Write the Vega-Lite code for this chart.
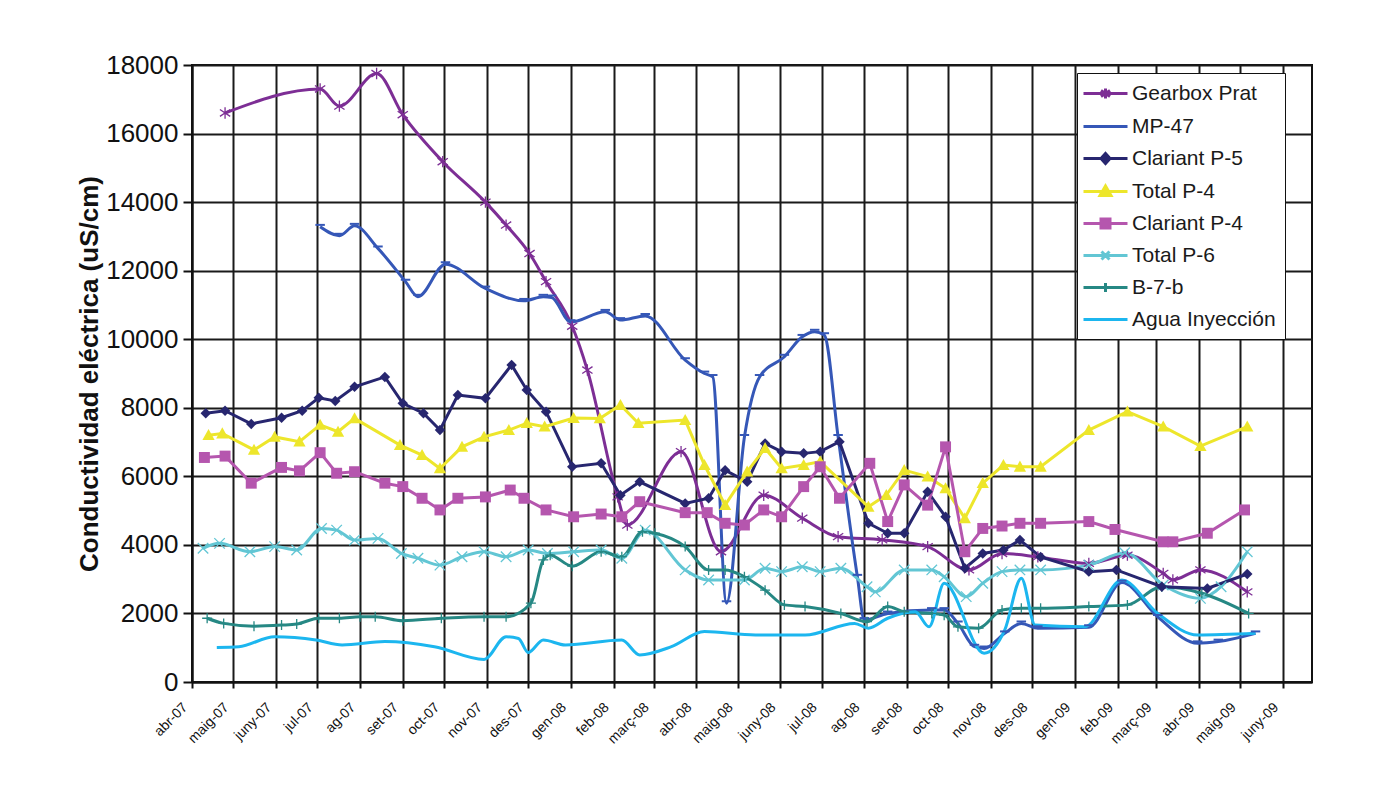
{
  "$schema": "https://vega.github.io/schema/vega-lite/v6.json",
  "width": 1120,
  "height": 617,
  "autosize": "none",
  "padding": {"left": 192, "top": 65, "right": 73, "bottom": 105},
  "background": "white",
  "config": {
    "font": "Liberation Sans",
    "view": {"stroke": "#111", "strokeWidth": 2},
    "axis": {"gridColor": "#1a1a1a", "gridWidth": 2, "gridOpacity": 1, "domainColor": "#111", "domainWidth": 2, "tickColor": "#111", "tickWidth": 2, "labelColor": "#111", "titleColor": "#111"}
  },
  "data": {"values": [
    {"s":"Gearbox Prat","d":"2007-04-25","v":16600},
    {"s":"Gearbox Prat","d":"2007-07-03","v":17300},
    {"s":"Gearbox Prat","d":"2007-07-17","v":16800},
    {"s":"Gearbox Prat","d":"2007-08-13","v":17750},
    {"s":"Gearbox Prat","d":"2007-09-01","v":16550},
    {"s":"Gearbox Prat","d":"2007-09-30","v":15180},
    {"s":"Gearbox Prat","d":"2007-10-31","v":14000},
    {"s":"Gearbox Prat","d":"2007-11-15","v":13330},
    {"s":"Gearbox Prat","d":"2007-12-02","v":12500},
    {"s":"Gearbox Prat","d":"2007-12-14","v":11680},
    {"s":"Gearbox Prat","d":"2008-01-02","v":10380},
    {"s":"Gearbox Prat","d":"2008-01-13","v":9100},
    {"s":"Gearbox Prat","d":"2008-02-04","v":5400},
    {"s":"Gearbox Prat","d":"2008-02-11","v":4580},
    {"s":"Gearbox Prat","d":"2008-03-21","v":6720},
    {"s":"Gearbox Prat","d":"2008-04-19","v":3800},
    {"s":"Gearbox Prat","d":"2008-05-20","v":5450},
    {"s":"Gearbox Prat","d":"2008-06-17","v":4780},
    {"s":"Gearbox Prat","d":"2008-07-13","v":4240},
    {"s":"Gearbox Prat","d":"2008-08-14","v":4150},
    {"s":"Gearbox Prat","d":"2008-09-16","v":3950},
    {"s":"Gearbox Prat","d":"2008-10-16","v":3270},
    {"s":"Gearbox Prat","d":"2008-11-09","v":3750},
    {"s":"Gearbox Prat","d":"2008-12-05","v":3650},
    {"s":"Gearbox Prat","d":"2009-01-11","v":3460},
    {"s":"Gearbox Prat","d":"2009-02-08","v":3700},
    {"s":"Gearbox Prat","d":"2009-03-06","v":3170},
    {"s":"Gearbox Prat","d":"2009-03-13","v":2980},
    {"s":"Gearbox Prat","d":"2009-04-02","v":3270},
    {"s":"Gearbox Prat","d":"2009-05-06","v":2630},

    {"s":"MP-47","d":"2007-07-03","v":13280},
    {"s":"MP-47","d":"2007-07-17","v":13020},
    {"s":"MP-47","d":"2007-07-28","v":13310},
    {"s":"MP-47","d":"2007-08-14","v":12650},
    {"s":"MP-47","d":"2007-09-03","v":11680},
    {"s":"MP-47","d":"2007-09-12","v":11240},
    {"s":"MP-47","d":"2007-10-02","v":12190},
    {"s":"MP-47","d":"2007-10-31","v":11480},
    {"s":"MP-47","d":"2007-11-28","v":11120},
    {"s":"MP-47","d":"2007-12-12","v":11240},
    {"s":"MP-47","d":"2007-12-18","v":11220},
    {"s":"MP-47","d":"2008-01-01","v":10500},
    {"s":"MP-47","d":"2008-01-26","v":10800},
    {"s":"MP-47","d":"2008-02-06","v":10560},
    {"s":"MP-47","d":"2008-02-24","v":10680},
    {"s":"MP-47","d":"2008-03-24","v":9390},
    {"s":"MP-47","d":"2008-04-07","v":9000},
    {"s":"MP-47","d":"2008-04-13","v":8900},
    {"s":"MP-47","d":"2008-04-23","v":2300},
    {"s":"MP-47","d":"2008-05-06","v":7150},
    {"s":"MP-47","d":"2008-05-17","v":8900},
    {"s":"MP-47","d":"2008-06-04","v":9490},
    {"s":"MP-47","d":"2008-06-17","v":10070},
    {"s":"MP-47","d":"2008-06-26","v":10220},
    {"s":"MP-47","d":"2008-07-03","v":10120},
    {"s":"MP-47","d":"2008-07-13","v":7150},
    {"s":"MP-47","d":"2008-07-27","v":3070},
    {"s":"MP-47","d":"2008-08-01","v":1810},
    {"s":"MP-47","d":"2008-08-18","v":2000},
    {"s":"MP-47","d":"2008-09-19","v":2100},
    {"s":"MP-47","d":"2008-09-28","v":2100},
    {"s":"MP-47","d":"2008-10-08","v":1710},
    {"s":"MP-47","d":"2008-10-20","v":1030},
    {"s":"MP-47","d":"2008-10-27","v":980},
    {"s":"MP-47","d":"2008-11-11","v":1420},
    {"s":"MP-47","d":"2008-11-23","v":1710},
    {"s":"MP-47","d":"2008-12-05","v":1570},
    {"s":"MP-47","d":"2009-01-11","v":1600},
    {"s":"MP-47","d":"2009-02-04","v":2900},
    {"s":"MP-47","d":"2009-03-02","v":1900},
    {"s":"MP-47","d":"2009-03-31","v":1130},
    {"s":"MP-47","d":"2009-04-15","v":1180},
    {"s":"MP-47","d":"2009-05-12","v":1420},

    {"s":"Clariant P-5","d":"2007-04-11","v":7840},
    {"s":"Clariant P-5","d":"2007-04-25","v":7915},
    {"s":"Clariant P-5","d":"2007-05-14","v":7530},
    {"s":"Clariant P-5","d":"2007-06-05","v":7710},
    {"s":"Clariant P-5","d":"2007-06-20","v":7915},
    {"s":"Clariant P-5","d":"2007-07-02","v":8290},
    {"s":"Clariant P-5","d":"2007-07-14","v":8200},
    {"s":"Clariant P-5","d":"2007-07-28","v":8610},
    {"s":"Clariant P-5","d":"2007-08-19","v":8900},
    {"s":"Clariant P-5","d":"2007-09-01","v":8130},
    {"s":"Clariant P-5","d":"2007-09-16","v":7840},
    {"s":"Clariant P-5","d":"2007-09-28","v":7350},
    {"s":"Clariant P-5","d":"2007-10-11","v":8370},
    {"s":"Clariant P-5","d":"2007-10-31","v":8275},
    {"s":"Clariant P-5","d":"2007-11-19","v":9250},
    {"s":"Clariant P-5","d":"2007-11-30","v":8520},
    {"s":"Clariant P-5","d":"2007-12-14","v":7885},
    {"s":"Clariant P-5","d":"2008-01-02","v":6280},
    {"s":"Clariant P-5","d":"2008-01-23","v":6380},
    {"s":"Clariant P-5","d":"2008-02-06","v":5450},
    {"s":"Clariant P-5","d":"2008-02-20","v":5840},
    {"s":"Clariant P-5","d":"2008-03-24","v":5210},
    {"s":"Clariant P-5","d":"2008-04-10","v":5360},
    {"s":"Clariant P-5","d":"2008-04-22","v":6180},
    {"s":"Clariant P-5","d":"2008-05-08","v":5840},
    {"s":"Clariant P-5","d":"2008-05-21","v":6960},
    {"s":"Clariant P-5","d":"2008-06-02","v":6720},
    {"s":"Clariant P-5","d":"2008-06-18","v":6670},
    {"s":"Clariant P-5","d":"2008-06-30","v":6720},
    {"s":"Clariant P-5","d":"2008-07-14","v":7010},
    {"s":"Clariant P-5","d":"2008-08-04","v":4630},
    {"s":"Clariant P-5","d":"2008-08-18","v":4340},
    {"s":"Clariant P-5","d":"2008-08-30","v":4340},
    {"s":"Clariant P-5","d":"2008-09-16","v":5550},
    {"s":"Clariant P-5","d":"2008-09-29","v":4820},
    {"s":"Clariant P-5","d":"2008-10-13","v":3320},
    {"s":"Clariant P-5","d":"2008-10-26","v":3750},
    {"s":"Clariant P-5","d":"2008-11-10","v":3850},
    {"s":"Clariant P-5","d":"2008-11-22","v":4140},
    {"s":"Clariant P-5","d":"2008-12-07","v":3650},
    {"s":"Clariant P-5","d":"2009-01-11","v":3220},
    {"s":"Clariant P-5","d":"2009-01-31","v":3270},
    {"s":"Clariant P-5","d":"2009-03-05","v":2780},
    {"s":"Clariant P-5","d":"2009-04-07","v":2730},
    {"s":"Clariant P-5","d":"2009-05-06","v":3150},

    {"s":"Total P-4","d":"2007-04-13","v":7200},
    {"s":"Total P-4","d":"2007-04-23","v":7250},
    {"s":"Total P-4","d":"2007-05-16","v":6770},
    {"s":"Total P-4","d":"2007-05-31","v":7150},
    {"s":"Total P-4","d":"2007-06-18","v":7010},
    {"s":"Total P-4","d":"2007-07-03","v":7500},
    {"s":"Total P-4","d":"2007-07-16","v":7300},
    {"s":"Total P-4","d":"2007-07-28","v":7690},
    {"s":"Total P-4","d":"2007-08-30","v":6910},
    {"s":"Total P-4","d":"2007-09-15","v":6620},
    {"s":"Total P-4","d":"2007-09-28","v":6230},
    {"s":"Total P-4","d":"2007-10-14","v":6860},
    {"s":"Total P-4","d":"2007-10-30","v":7150},
    {"s":"Total P-4","d":"2007-11-17","v":7350},
    {"s":"Total P-4","d":"2007-11-30","v":7550},
    {"s":"Total P-4","d":"2007-12-13","v":7450},
    {"s":"Total P-4","d":"2008-01-03","v":7700},
    {"s":"Total P-4","d":"2008-01-22","v":7690},
    {"s":"Total P-4","d":"2008-02-06","v":8080},
    {"s":"Total P-4","d":"2008-02-19","v":7550},
    {"s":"Total P-4","d":"2008-03-24","v":7640},
    {"s":"Total P-4","d":"2008-04-07","v":6330},
    {"s":"Total P-4","d":"2008-04-22","v":5160},
    {"s":"Total P-4","d":"2008-05-08","v":6135},
    {"s":"Total P-4","d":"2008-05-21","v":6820},
    {"s":"Total P-4","d":"2008-06-02","v":6230},
    {"s":"Total P-4","d":"2008-06-18","v":6330},
    {"s":"Total P-4","d":"2008-06-30","v":6430},
    {"s":"Total P-4","d":"2008-08-04","v":5110},
    {"s":"Total P-4","d":"2008-08-17","v":5455},
    {"s":"Total P-4","d":"2008-08-30","v":6180},
    {"s":"Total P-4","d":"2008-09-16","v":5990},
    {"s":"Total P-4","d":"2008-09-29","v":5650},
    {"s":"Total P-4","d":"2008-10-13","v":4775},
    {"s":"Total P-4","d":"2008-10-26","v":5800},
    {"s":"Total P-4","d":"2008-11-10","v":6330},
    {"s":"Total P-4","d":"2008-11-22","v":6280},
    {"s":"Total P-4","d":"2008-12-07","v":6280},
    {"s":"Total P-4","d":"2009-01-11","v":7350},
    {"s":"Total P-4","d":"2009-02-08","v":7885},
    {"s":"Total P-4","d":"2009-03-06","v":7450},
    {"s":"Total P-4","d":"2009-04-02","v":6880},
    {"s":"Total P-4","d":"2009-05-06","v":7450},

    {"s":"Clariant P-4","d":"2007-04-10","v":6550},
    {"s":"Clariant P-4","d":"2007-04-25","v":6590},
    {"s":"Clariant P-4","d":"2007-05-14","v":5800},
    {"s":"Clariant P-4","d":"2007-06-05","v":6260},
    {"s":"Clariant P-4","d":"2007-06-18","v":6160},
    {"s":"Clariant P-4","d":"2007-07-03","v":6690},
    {"s":"Clariant P-4","d":"2007-07-15","v":6090},
    {"s":"Clariant P-4","d":"2007-07-28","v":6135},
    {"s":"Clariant P-4","d":"2007-08-19","v":5800},
    {"s":"Clariant P-4","d":"2007-09-01","v":5700},
    {"s":"Clariant P-4","d":"2007-09-15","v":5360},
    {"s":"Clariant P-4","d":"2007-09-28","v":5020},
    {"s":"Clariant P-4","d":"2007-10-11","v":5360},
    {"s":"Clariant P-4","d":"2007-10-31","v":5400},
    {"s":"Clariant P-4","d":"2007-11-18","v":5600},
    {"s":"Clariant P-4","d":"2007-11-28","v":5360},
    {"s":"Clariant P-4","d":"2007-12-14","v":5020},
    {"s":"Clariant P-4","d":"2008-01-03","v":4820},
    {"s":"Clariant P-4","d":"2008-01-23","v":4900},
    {"s":"Clariant P-4","d":"2008-02-07","v":4820},
    {"s":"Clariant P-4","d":"2008-02-20","v":5260},
    {"s":"Clariant P-4","d":"2008-03-24","v":4940},
    {"s":"Clariant P-4","d":"2008-04-09","v":4940},
    {"s":"Clariant P-4","d":"2008-04-22","v":4630},
    {"s":"Clariant P-4","d":"2008-05-06","v":4580},
    {"s":"Clariant P-4","d":"2008-05-20","v":5020},
    {"s":"Clariant P-4","d":"2008-06-02","v":4820},
    {"s":"Clariant P-4","d":"2008-06-18","v":5700},
    {"s":"Clariant P-4","d":"2008-06-30","v":6280},
    {"s":"Clariant P-4","d":"2008-07-14","v":5360},
    {"s":"Clariant P-4","d":"2008-08-05","v":6380},
    {"s":"Clariant P-4","d":"2008-08-18","v":4680},
    {"s":"Clariant P-4","d":"2008-08-30","v":5750},
    {"s":"Clariant P-4","d":"2008-09-16","v":5160},
    {"s":"Clariant P-4","d":"2008-09-29","v":6860},
    {"s":"Clariant P-4","d":"2008-10-13","v":3800},
    {"s":"Clariant P-4","d":"2008-10-26","v":4480},
    {"s":"Clariant P-4","d":"2008-11-09","v":4550},
    {"s":"Clariant P-4","d":"2008-11-22","v":4630},
    {"s":"Clariant P-4","d":"2008-12-07","v":4630},
    {"s":"Clariant P-4","d":"2009-01-11","v":4680},
    {"s":"Clariant P-4","d":"2009-01-30","v":4450},
    {"s":"Clariant P-4","d":"2009-03-06","v":4090},
    {"s":"Clariant P-4","d":"2009-03-13","v":4090},
    {"s":"Clariant P-4","d":"2009-04-07","v":4340},
    {"s":"Clariant P-4","d":"2009-05-04","v":5020},

    {"s":"Total P-6","d":"2007-04-09","v":3900},
    {"s":"Total P-6","d":"2007-04-21","v":4045},
    {"s":"Total P-6","d":"2007-05-13","v":3800},
    {"s":"Total P-6","d":"2007-05-31","v":3950},
    {"s":"Total P-6","d":"2007-06-16","v":3850},
    {"s":"Total P-6","d":"2007-07-04","v":4480},
    {"s":"Total P-6","d":"2007-07-15","v":4430},
    {"s":"Total P-6","d":"2007-07-28","v":4140},
    {"s":"Total P-6","d":"2007-08-14","v":4190},
    {"s":"Total P-6","d":"2007-08-31","v":3750},
    {"s":"Total P-6","d":"2007-09-12","v":3610},
    {"s":"Total P-6","d":"2007-09-28","v":3410},
    {"s":"Total P-6","d":"2007-10-14","v":3655},
    {"s":"Total P-6","d":"2007-10-30","v":3800},
    {"s":"Total P-6","d":"2007-11-15","v":3655},
    {"s":"Total P-6","d":"2007-12-01","v":3850},
    {"s":"Total P-6","d":"2007-12-15","v":3750},
    {"s":"Total P-6","d":"2008-01-03","v":3800},
    {"s":"Total P-6","d":"2008-01-23","v":3850},
    {"s":"Total P-6","d":"2008-02-07","v":3610},
    {"s":"Total P-6","d":"2008-02-24","v":4430},
    {"s":"Total P-6","d":"2008-03-24","v":3270},
    {"s":"Total P-6","d":"2008-04-10","v":2975},
    {"s":"Total P-6","d":"2008-05-06","v":2975},
    {"s":"Total P-6","d":"2008-05-21","v":3320},
    {"s":"Total P-6","d":"2008-06-02","v":3220},
    {"s":"Total P-6","d":"2008-06-17","v":3360},
    {"s":"Total P-6","d":"2008-06-30","v":3220},
    {"s":"Total P-6","d":"2008-07-15","v":3320},
    {"s":"Total P-6","d":"2008-08-03","v":2780},
    {"s":"Total P-6","d":"2008-08-09","v":2630},
    {"s":"Total P-6","d":"2008-08-30","v":3270},
    {"s":"Total P-6","d":"2008-09-19","v":3270},
    {"s":"Total P-6","d":"2008-09-28","v":3070},
    {"s":"Total P-6","d":"2008-10-14","v":2490},
    {"s":"Total P-6","d":"2008-10-26","v":2880},
    {"s":"Total P-6","d":"2008-11-09","v":3220},
    {"s":"Total P-6","d":"2008-11-22","v":3270},
    {"s":"Total P-6","d":"2008-12-07","v":3270},
    {"s":"Total P-6","d":"2009-01-11","v":3410},
    {"s":"Total P-6","d":"2009-02-06","v":3770},
    {"s":"Total P-6","d":"2009-03-06","v":2830},
    {"s":"Total P-6","d":"2009-04-02","v":2440},
    {"s":"Total P-6","d":"2009-04-17","v":2780},
    {"s":"Total P-6","d":"2009-05-06","v":3800},

    {"s":"B-7-b","d":"2007-04-12","v":1860},
    {"s":"B-7-b","d":"2007-04-24","v":1710},
    {"s":"B-7-b","d":"2007-05-16","v":1630},
    {"s":"B-7-b","d":"2007-06-05","v":1660},
    {"s":"B-7-b","d":"2007-06-16","v":1690},
    {"s":"B-7-b","d":"2007-07-02","v":1860},
    {"s":"B-7-b","d":"2007-07-17","v":1860},
    {"s":"B-7-b","d":"2007-08-01","v":1905},
    {"s":"B-7-b","d":"2007-08-12","v":1905},
    {"s":"B-7-b","d":"2007-09-01","v":1790},
    {"s":"B-7-b","d":"2007-09-29","v":1860},
    {"s":"B-7-b","d":"2007-10-30","v":1905},
    {"s":"B-7-b","d":"2007-11-15","v":1905},
    {"s":"B-7-b","d":"2007-12-03","v":2300},
    {"s":"B-7-b","d":"2007-12-12","v":3560},
    {"s":"B-7-b","d":"2007-12-17","v":3700},
    {"s":"B-7-b","d":"2008-01-02","v":3380},
    {"s":"B-7-b","d":"2008-01-23","v":3800},
    {"s":"B-7-b","d":"2008-02-07","v":3655},
    {"s":"B-7-b","d":"2008-02-22","v":4385},
    {"s":"B-7-b","d":"2008-03-02","v":4340},
    {"s":"B-7-b","d":"2008-03-24","v":3950},
    {"s":"B-7-b","d":"2008-04-10","v":3270},
    {"s":"B-7-b","d":"2008-04-22","v":3270},
    {"s":"B-7-b","d":"2008-05-06","v":3070},
    {"s":"B-7-b","d":"2008-05-21","v":2680},
    {"s":"B-7-b","d":"2008-06-04","v":2250},
    {"s":"B-7-b","d":"2008-06-19","v":2200},
    {"s":"B-7-b","d":"2008-07-15","v":2000},
    {"s":"B-7-b","d":"2008-08-03","v":1760},
    {"s":"B-7-b","d":"2008-08-18","v":2200},
    {"s":"B-7-b","d":"2008-08-30","v":2050},
    {"s":"B-7-b","d":"2008-09-19","v":2000},
    {"s":"B-7-b","d":"2008-09-28","v":1950},
    {"s":"B-7-b","d":"2008-10-08","v":1610},
    {"s":"B-7-b","d":"2008-10-23","v":1570},
    {"s":"B-7-b","d":"2008-11-09","v":2100},
    {"s":"B-7-b","d":"2008-11-23","v":2150},
    {"s":"B-7-b","d":"2008-12-07","v":2150},
    {"s":"B-7-b","d":"2009-01-11","v":2200},
    {"s":"B-7-b","d":"2009-02-08","v":2250},
    {"s":"B-7-b","d":"2009-03-05","v":2780},
    {"s":"B-7-b","d":"2009-04-03","v":2590},
    {"s":"B-7-b","d":"2009-05-07","v":2000},

    {"s":"Agua Inyección","d":"2007-04-19","v":1010},
    {"s":"Agua Inyección","d":"2007-05-05","v":1030},
    {"s":"Agua Inyección","d":"2007-05-31","v":1320},
    {"s":"Agua Inyección","d":"2007-06-30","v":1225},
    {"s":"Agua Inyección","d":"2007-07-19","v":1080},
    {"s":"Agua Inyección","d":"2007-08-19","v":1180},
    {"s":"Agua Inyección","d":"2007-09-24","v":1030},
    {"s":"Agua Inyección","d":"2007-10-30","v":660},
    {"s":"Agua Inyección","d":"2007-11-15","v":1320},
    {"s":"Agua Inyección","d":"2007-11-24","v":1270},
    {"s":"Agua Inyección","d":"2007-12-01","v":860},
    {"s":"Agua Inyección","d":"2007-12-12","v":1225},
    {"s":"Agua Inyección","d":"2007-12-28","v":1080},
    {"s":"Agua Inyección","d":"2008-02-07","v":1225},
    {"s":"Agua Inyección","d":"2008-02-20","v":790},
    {"s":"Agua Inyección","d":"2008-03-14","v":1030},
    {"s":"Agua Inyección","d":"2008-04-07","v":1470},
    {"s":"Agua Inyección","d":"2008-05-14","v":1370},
    {"s":"Agua Inyección","d":"2008-06-19","v":1370},
    {"s":"Agua Inyección","d":"2008-07-25","v":1710},
    {"s":"Agua Inyección","d":"2008-08-04","v":1570},
    {"s":"Agua Inyección","d":"2008-08-18","v":1860},
    {"s":"Agua Inyección","d":"2008-09-07","v":2050},
    {"s":"Agua Inyección","d":"2008-09-17","v":1610},
    {"s":"Agua Inyección","d":"2008-09-28","v":2880},
    {"s":"Agua Inyección","d":"2008-10-27","v":840},
    {"s":"Agua Inyección","d":"2008-11-11","v":1520},
    {"s":"Agua Inyección","d":"2008-11-23","v":3030},
    {"s":"Agua Inyección","d":"2008-12-03","v":1660},
    {"s":"Agua Inyección","d":"2009-01-08","v":1610},
    {"s":"Agua Inyección","d":"2009-02-04","v":2975},
    {"s":"Agua Inyección","d":"2009-03-02","v":2000},
    {"s":"Agua Inyección","d":"2009-03-31","v":1370},
    {"s":"Agua Inyección","d":"2009-05-12","v":1420}
  ]},
  "encoding": {
    "x": {
      "field": "d", "type": "temporal",
      "scale": {"type": "utc", "nice": false, "domain": [{"year": 2007, "month": 4, "date": 1, "utc": true}, {"year": 2009, "month": 6, "date": 22, "utc": true}]},
      "axis": {
        "title": null, "grid": true, "tickCount": {"interval": "month", "step": 1},
        "labelAngle": -45, "labelFontSize": 14, "labelPadding": 12, "labelOffset": -12, "tickSize": 6,
        "labelOverlap": false, "labelBound": false, "labelFlush": false,
        "labelExpr": "['gen','feb','març','abr','maig','juny','jul','ag','set','oct','nov','des'][utcmonth(datum.value)] + '-' + utcFormat(datum.value, '%y')"
      }
    },
    "y": {
      "field": "v", "type": "quantitative",
      "scale": {"domain": [0, 18000], "nice": false},
      "axis": {
        "title": "Conductividad eléctrica (uS/cm)", "titleFontSize": 26, "titleFontWeight": "bold", "titlePadding": 3,
        "values": [0, 2000, 4000, 6000, 8000, 10000, 12000, 14000, 16000, 18000],
        "format": "d", "labelFontSize": 26, "labelPadding": 5, "tickSize": 9, "grid": true
      }
    }
  },
  "layer": [
    {
      "transform": [{"filter": {"field": "s", "oneOf": ["Gearbox Prat", "MP-47", "Total P-6", "B-7-b", "Agua Inyección"]}}],
      "mark": {"type": "line", "interpolate": "monotone", "strokeWidth": 3},
      "encoding": {
        "color": {
          "field": "s", "type": "nominal",
          "scale": {
            "domain": ["Gearbox Prat", "MP-47", "Clariant P-5", "Total P-4", "Clariant P-4", "Total P-6", "B-7-b", "Agua Inyección"],
            "range": ["#7D2E95", "#3557B7", "#27266F", "#EDE62B", "#B556AE", "#62C6D4", "#268884", "#1CB6EF"]
          },
          "legend": {
            "title": null, "orient": "none", "legendX": 885, "legendY": 8,
            "fillColor": "white", "strokeColor": "#111", "padding": 9,
            "labelFontSize": 21, "labelColor": "#1a1a1a", "labelOffset": 15, "symbolOffset": 8,
            "symbolSize": 400, "rowPadding": 10, "symbolType": "stroke",
            "encode": {"symbols": {"update": {
              "shape": {"signal": "datum.value === 'Gearbox Prat' ? 'M-2.2,0H2.2M0,-0.5V0.5M-0.45,-0.3L0.45,0.3M-0.45,0.3L0.45,-0.3' : datum.value === 'Clariant P-5' ? 'M-2.2,0H2.2M0,-0.5L0.45,0L0,0.5L-0.45,0Z' : datum.value === 'Total P-4' ? 'M-2.2,0H2.2M0,-0.55L0.55,0.4L-0.55,0.4Z' : datum.value === 'Clariant P-4' ? 'M-2.2,0H2.2M-0.45,-0.45H0.45V0.45H-0.45Z' : datum.value === 'Total P-6' ? 'M-2.2,0H2.2M-0.4,-0.4L0.4,0.4M-0.4,0.4L0.4,-0.4' : datum.value === 'B-7-b' ? 'M-2.2,0H2.2M0,-0.45V0.45' : 'M-2.2,0H2.2'"},
              "stroke": {"scale": "color", "field": "value"},
              "fill": {"scale": "color", "field": "value"},
              "strokeWidth": {"value": 3},
              "size": {"value": 400},
              "opacity": {"value": 1}
            }}}
          }
        }
      }
    },
    {
      "transform": [{"filter": {"field": "s", "oneOf": ["Clariant P-5", "Total P-4", "Clariant P-4"]}}],
      "mark": {"type": "line", "interpolate": "linear", "strokeWidth": 3},
      "encoding": {"color": {"field": "s", "type": "nominal"}}
    },
    {
      "transform": [{"filter": {"field": "s", "equal": "Gearbox Prat"}}],
      "mark": {"type": "point", "filled": false, "shape": "M0,-1V1M-0.9,-0.6L0.9,0.6M-0.9,0.6L0.9,-0.6", "size": 130, "strokeWidth": 1.3, "color": "#7D2E95", "opacity": 1}
    },
    {
      "transform": [{"filter": {"field": "s", "equal": "MP-47"}}],
      "mark": {"type": "point", "filled": false, "shape": "M-1,-0.4H1", "size": 90, "strokeWidth": 2, "color": "#3557B7", "opacity": 1}
    },
    {
      "transform": [{"filter": {"field": "s", "equal": "Total P-6"}}],
      "mark": {"type": "point", "filled": false, "shape": "M-1,-1L1,1M-1,1L1,-1", "size": 110, "strokeWidth": 1.3, "color": "#62C6D4", "opacity": 1}
    },
    {
      "transform": [{"filter": {"field": "s", "equal": "B-7-b"}}],
      "mark": {"type": "point", "filled": false, "shape": "M0,-1V1M-1,0H1", "size": 100, "strokeWidth": 1.3, "color": "#268884", "opacity": 1}
    },
    {
      "transform": [{"filter": {"field": "s", "equal": "Clariant P-5"}}],
      "mark": {"type": "point", "filled": true, "shape": "M0,-1L1,0L0,1L-1,0Z", "size": 110, "color": "#27266F", "opacity": 1}
    },
    {
      "transform": [{"filter": {"field": "s", "equal": "Total P-4"}}],
      "mark": {"type": "point", "filled": true, "shape": "M0,-1L1,0.8L-1,0.8Z", "size": 150, "color": "#EDE62B", "opacity": 1}
    },
    {
      "transform": [{"filter": {"field": "s", "equal": "Clariant P-4"}}],
      "mark": {"type": "point", "filled": true, "shape": "M-1,-1H1V1H-1Z", "size": 120, "color": "#B556AE", "opacity": 1}
    }
  ]
}
